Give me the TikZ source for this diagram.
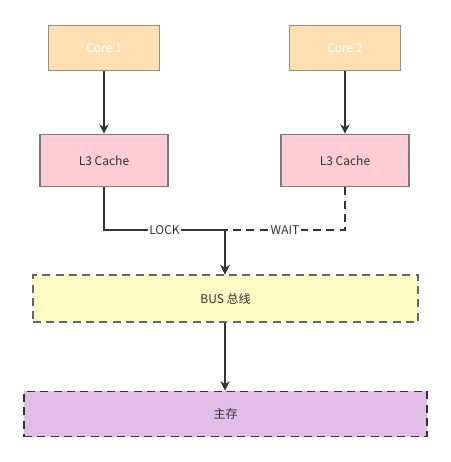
\documentclass[tikz,border=0pt]{standalone}
\usepackage{fontspec}
\setmainfont{Noto Sans CJK SC}
\usepackage{xcolor}
\usetikzlibrary{arrows.meta, positioning, calc}
\definecolor{coreFill}{HTML}{FFE0B2}
\definecolor{coreLine}{HTML}{909080}
\definecolor{cacheFill}{HTML}{FFCDD2}
\definecolor{cacheLine}{HTML}{7A7A7A}
\definecolor{busFill}{HTML}{FFF9C4}
\definecolor{busLine}{HTML}{666666}
\definecolor{memFill}{HTML}{E1BEE7}
\definecolor{darkLine}{HTML}{333333}
\tikzset{
	box/.style={rectangle, draw, line width=1.2pt, font=\fontsize{9}{11}\selectfont, text=darkLine},
	line/.style={draw=darkLine, line width=1.5pt, -{Stealth[length=7pt, width=7pt]}},
	lab/.style={fill=white, inner sep=1pt, text=darkLine, font=\fontsize{9}{11}\selectfont}
}

\begin{document}
\begin{tikzpicture}[
	x=0.75pt, y=-0.75pt,
	core/.style={box, fill=coreFill, draw=coreLine, text=white, minimum width=83pt, minimum height=34pt},
	cache/.style={box, fill=cacheFill, draw=cacheLine, minimum width=96pt, minimum height=39pt},
	bus/.style={box, fill=busFill, draw=busLine, dash pattern=on 6pt off 4pt, minimum width=289pt, minimum height=35pt},
	mem/.style={box, fill=memFill, draw=darkLine, dash pattern=on 6pt off 4pt, minimum width=302pt, minimum height=34pt}
	]
	
	\useasboundingbox (0,0) rectangle (451,462);
	
	% Cores
	\node[core] (core_1) at (104,48) {Core 1};
	\node[core] (core_2) at (345,48) {Core 2};
	
	% Caches
	\node[cache] (cache_1) at (104,160.5) {L3 Cache};
	\node[cache] (cache_2) at (345,160.5) {L3 Cache};
	
	% Bus and memory
	\node[bus] (bus) at (225.5,298.5) {BUS 总线};
	\node[mem] (memory) at (225.5,414) {主存};
	
	% where both cache lines meet
	\coordinate (bus_join) at (225,230);
	
	\draw[line] (core_1) -- (cache_1);
	\draw[line] (core_2) -- (cache_2);
	
	% cache 1 holds the lock, cache 2 waits
	\draw[line] (cache_1.south) |- node[lab, pos=0.75] {LOCK} (bus_join) -- (bus_join |- bus.north);
	\draw[line, dash pattern=on 6pt off 4pt] (cache_2.south) |- node[lab, pos=0.75] {WAIT} (bus_join) -- (bus_join |- bus.north);
	
	\draw[line] (bus_join |- bus.south) -- (bus_join |- memory.north);
	
\end{tikzpicture}
\end{document}
